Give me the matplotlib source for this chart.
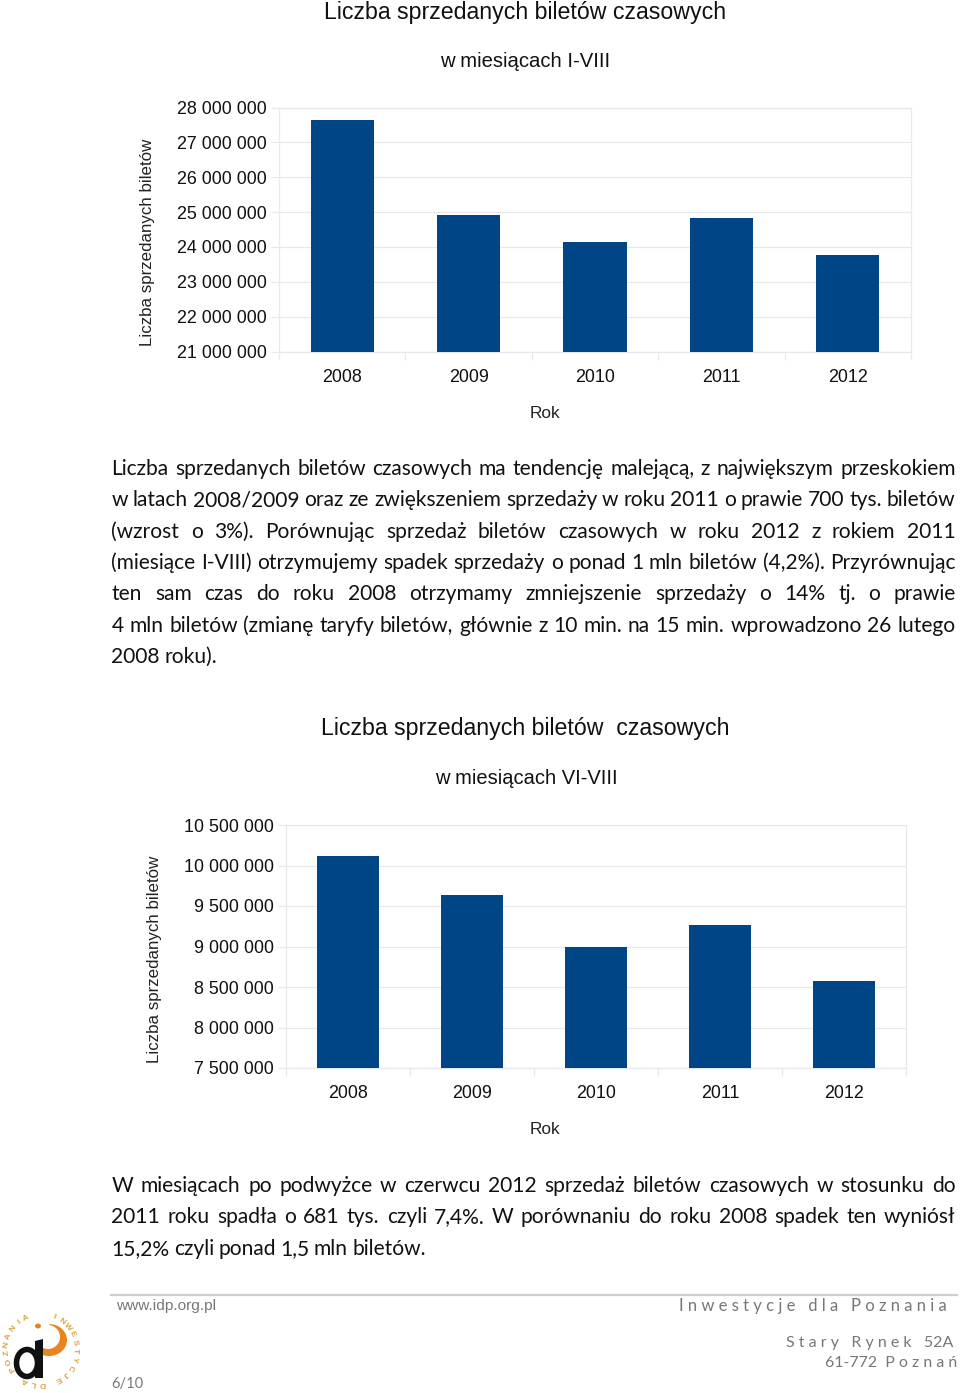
import numpy as np
import matplotlib
matplotlib.use('Agg')
import matplotlib.pyplot as plt
from matplotlib.patches import Ellipse, Polygon

plt.rcParams['font.family'] = ['Liberation Sans', 'DejaVu Sans']

W, H = 960, 1393

years = ['2008', '2009', '2010', '2011', '2012']
tickets_all = [27640000, 24920000, 24140000, 24820000, 23770000]
tickets_summer = [10117000, 9636000, 8994000, 9260000, 8574000]
ticks_all = [21000000, 22000000, 23000000, 24000000, 25000000, 26000000, 27000000, 28000000]
ticks_summer = [7500000, 8000000, 8500000, 9000000, 9500000, 10000000, 10500000]

para1 = ['Liczba sprzedanych biletów czasowych ma tendencję malejącą, z największym przeskokiem',
         'w latach 2008/2009 oraz ze zwiększeniem sprzedaży w roku 2011 o prawie 700 tys. biletów',
         '(wzrost o 3%). Porównując sprzedaż biletów czasowych w roku 2012 z rokiem 2011',
         '(miesiące I-VIII) otrzymujemy spadek sprzedaży o ponad 1 mln biletów (4,2%). Przyrównując',
         'ten sam czas do roku 2008 otrzymamy zmniejszenie sprzedaży o 14% tj. o prawie',
         '4 mln biletów (zmianę taryfy biletów, głównie z 10 min. na 15 min. wprowadzono 26 lutego',
         '2008 roku).']
para2 = ['W miesiącach po podwyżce w czerwcu 2012 sprzedaż biletów czasowych w stosunku do',
         '2011 roku spadła o 681 tys. czyli 7,4%. W porównaniu do roku 2008 spadek ten wyniósł',
         '15,2% czyli ponad 1,5 mln biletów.']

fig = plt.figure(figsize=(W / 100, H / 100), dpi=100, facecolor='white')
bg = fig.add_axes([0, 0, 1, 1])
bg.set_xlim(0, W)
bg.set_ylim(H, 0)
bg.axis('off')


def fmt(v):
    return f'{v:,}'.replace(',', ' ')


def bar_chart(values, ticks, box, bar_w, ylabel, ylabel_x, ylabel_y, xlabel_y, xtick_y, tick_size):
    # box is left, top, right, bottom in picture pixels
    l, t, r, b = box
    ax = fig.add_axes([l / W, 1 - b / H, (r - l) / W, (b - t) / H])
    ax.bar(range(5), values, width=bar_w, color='#004586', zorder=3)
    ax.set_xlim(-0.5, 4.5)
    ax.set_ylim(ticks[0], ticks[-1])
    ax.set_yticks(ticks)
    ax.set_yticklabels([fmt(v) for v in ticks], fontsize=tick_size, color='#111111')
    ax.set_xticks(np.arange(-0.5, 5))
    ax.set_xticklabels([])
    ax.grid(axis='y', color='#e6e8ec', lw=0.9, zorder=0)
    ax.tick_params(axis='y', length=5.5, width=0.9, color='#e6e8ec', pad=3.5)
    ax.tick_params(axis='x', length=6, width=0.9, color='#e6e8ec')
    for s in ['top', 'left', 'bottom', 'right']:
        ax.spines[s].set_color('#e6e8ec')
        ax.spines[s].set_linewidth(0.9)
    for i, y in enumerate(years):
        bg.text(l + (i + 0.5) * (r - l) / 5, xtick_y, y, fontsize=tick_size, color='#111111',
                ha='center', va='center')
    bg.text(ylabel_x, ylabel_y, ylabel, fontsize=12.2, color='#222222', rotation=90,
            ha='center', va='center')
    bg.text(544.5, xlabel_y, 'Rok', fontsize=12.4, color='#222222', ha='center', va='center')


def justified(lines, top, step, x0=111.5, x1=955.5, size=15.1):
    renderer = fig.canvas.get_renderer()
    for n, line in enumerate(lines):
        y = top + n * step
        words = line.split(' ')
        items = [bg.text(x0, y, w, fontsize=size, family='Lato', color='#111111', va='center', ha='left')
                 for w in words]
        widths = [it.get_window_extent(renderer).width for it in items]
        if n == len(lines) - 1:
            gap = 4.3
        else:
            gap = (x1 - x0 - sum(widths)) / (len(words) - 1)
        x = x0
        for it, w in zip(items, widths):
            it.set_x(x)
            x += w + gap


bg.text(525, 12.5, 'Liczba sprzedanych biletów czasowych', fontsize=16.65, color='#111111', ha='center', va='center')
bg.text(525, 61.5, 'w miesiącach I-VIII', fontsize=14.6, color='#111111', ha='center', va='center')
bar_chart(tickets_all, ticks_all, (279, 107.5, 911, 351.5), 0.5, 'Liczba sprzedanych biletów',
          147.5, 242, 413, 377, 12.9)

justified(para1, 469, 31.3)

bg.text(525.5, 728.5, 'Liczba sprzedanych biletów  czasowych', fontsize=16.65, color='#111111', ha='center', va='center')
bg.text(526, 778.5, 'w miesiącach VI-VIII', fontsize=14.5, color='#111111', ha='center', va='center')
bar_chart(tickets_summer, ticks_summer, (286, 825, 906, 1068), 0.5, 'Liczba sprzedanych biletów',
          154, 959, 1130, 1094, 12.9)

justified(para2, 1186, 31.3)

# footer
bg.plot([111, 957], [1295, 1295], color='#cfcfcf', lw=1.6)
bg.text(116, 1306, 'www.idp.org.pl', fontsize=11.1, color='#777777', ha='left', va='center')
bg.text(947, 1306, 'I n w e s t y c j e   d l a   P o z n a n i a', fontsize=12, family='Lato',
        color='#777777', ha='right', va='center')
bg.text(953, 1343, 'S t a r y   R y n e k   52A', fontsize=11.5, family='Lato', color='#777777',
        ha='right', va='center')
bg.text(957, 1363, '61-772  P o z n a ń', fontsize=11.4, family='Lato', color='#777777',
        ha='right', va='center')
bg.text(111, 1384, '6/10', fontsize=10.5, family='Lato', color='#777777', ha='left', va='center')

# logo
cx, cy, rad = 41, 1349, 34.5
ring = 'INWESTYCJE DLA POZNANIA'
for i, ch in enumerate(ring):
    a = np.deg2rad(22 + i * 14.2)
    bg.text(cx + rad * np.sin(a), cy - rad * np.cos(a), ch, fontsize=6, fontweight='bold',
            color='#d9a441', rotation=-np.rad2deg(a), rotation_mode='anchor', ha='center', va='center')
theta = np.linspace(-1.5, 2.2, 40)
outer = np.c_[49 + 18 * np.cos(theta), 1340 + 16 * np.sin(theta)]
inner = np.c_[48 + 12 * np.cos(theta[::-1]), 1337 + 12 * np.sin(theta[::-1])]
bg.add_patch(Polygon(np.r_[outer, inner], closed=True, color='#e8851e', lw=0))
bg.add_patch(Ellipse((38, 1326), 6, 5, color='#e8851e', lw=0))
bg.add_patch(Ellipse((27, 1363), 21, 27, fill=False, ec='#111111', lw=4))
bg.add_patch(Polygon([[35, 1341], [43, 1339], [43, 1378], [35, 1378]], closed=True, color='#111111', lw=0))

fig.savefig('out.png', dpi=100)
